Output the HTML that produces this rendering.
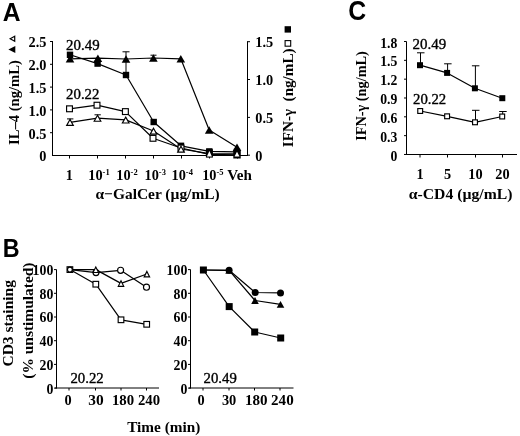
<!DOCTYPE html>
<html><head><meta charset="utf-8"><style>
html,body{margin:0;padding:0;background:#fff;}
body{width:520px;height:436px;overflow:hidden;}
svg{display:block;filter:grayscale(1) blur(0.35px);}
</style></head><body>
<svg width="520" height="436" viewBox="0 0 520 436">
<rect x="0" y="0" width="520" height="436" fill="#fff"/>
<text transform="translate(2.7,21.1) scale(0.93,1)" font-family='"Liberation Sans", sans-serif' font-size="26.5" font-weight="bold">A</text>
<text transform="translate(2.8,256.9) scale(0.88,1)" font-family='"Liberation Sans", sans-serif' font-size="26.5" font-weight="bold">B</text>
<text transform="translate(348.3,19.8) scale(0.9,1)" font-family='"Liberation Sans", sans-serif' font-size="27.6" font-weight="bold">C</text>
<line x1="52.5" y1="41" x2="52.5" y2="156.0" stroke="#000" stroke-width="1.0"/>
<line x1="52.0" y1="155.5" x2="248.0" y2="155.5" stroke="#000" stroke-width="1.0"/>
<line x1="247.5" y1="41.2" x2="247.5" y2="156.0" stroke="#000" stroke-width="1.0"/>
<line x1="50.0" y1="41.5" x2="52.5" y2="41.5" stroke="#000" stroke-width="1.0"/>
<line x1="50.0" y1="64.3" x2="52.5" y2="64.3" stroke="#000" stroke-width="1.0"/>
<line x1="50.0" y1="87.1" x2="52.5" y2="87.1" stroke="#000" stroke-width="1.0"/>
<line x1="50.0" y1="109.9" x2="52.5" y2="109.9" stroke="#000" stroke-width="1.0"/>
<line x1="50.0" y1="132.7" x2="52.5" y2="132.7" stroke="#000" stroke-width="1.0"/>
<line x1="247.5" y1="41.7" x2="250.0" y2="41.7" stroke="#000" stroke-width="1.0"/>
<line x1="247.5" y1="79.5" x2="250.0" y2="79.5" stroke="#000" stroke-width="1.0"/>
<line x1="247.5" y1="117.4" x2="250.0" y2="117.4" stroke="#000" stroke-width="1.0"/>
<line x1="247.5" y1="155.2" x2="250.0" y2="155.2" stroke="#000" stroke-width="1.0"/>
<line x1="69.5" y1="155.5" x2="69.5" y2="158.5" stroke="#000" stroke-width="1.0"/>
<line x1="97.5" y1="155.5" x2="97.5" y2="158.5" stroke="#000" stroke-width="1.0"/>
<line x1="125.5" y1="155.5" x2="125.5" y2="158.5" stroke="#000" stroke-width="1.0"/>
<line x1="153.5" y1="155.5" x2="153.5" y2="158.5" stroke="#000" stroke-width="1.0"/>
<line x1="181.5" y1="155.5" x2="181.5" y2="158.5" stroke="#000" stroke-width="1.0"/>
<line x1="209.5" y1="155.5" x2="209.5" y2="158.5" stroke="#000" stroke-width="1.0"/>
<line x1="237.5" y1="155.5" x2="237.5" y2="158.5" stroke="#000" stroke-width="1.0"/>
<text x="46.4" y="47.4" font-family='"Liberation Serif", serif' font-size="14.3" font-weight="bold" text-anchor="end" >2.5</text>
<text x="46.4" y="70.2" font-family='"Liberation Serif", serif' font-size="14.3" font-weight="bold" text-anchor="end" >2.0</text>
<text x="46.4" y="93.0" font-family='"Liberation Serif", serif' font-size="14.3" font-weight="bold" text-anchor="end" >1.5</text>
<text x="46.4" y="115.80000000000001" font-family='"Liberation Serif", serif' font-size="14.3" font-weight="bold" text-anchor="end" >1.0</text>
<text x="46.4" y="138.6" font-family='"Liberation Serif", serif' font-size="14.3" font-weight="bold" text-anchor="end" >0.5</text>
<text x="46.4" y="161.4" font-family='"Liberation Serif", serif' font-size="14.3" font-weight="bold" text-anchor="end" >0</text>
<text x="255.3" y="47.300000000000004" font-family='"Liberation Serif", serif' font-size="14.3" font-weight="bold" text-anchor="start" >1.5</text>
<text x="255.3" y="85.1" font-family='"Liberation Serif", serif' font-size="14.3" font-weight="bold" text-anchor="start" >1.0</text>
<text x="255.3" y="123.0" font-family='"Liberation Serif", serif' font-size="14.3" font-weight="bold" text-anchor="start" >0.5</text>
<text x="255.3" y="160.79999999999998" font-family='"Liberation Serif", serif' font-size="14.3" font-weight="bold" text-anchor="start" >0</text>
<text x="69.4" y="179.8" font-family='"Liberation Serif", serif' font-size="14.3" font-weight="bold" text-anchor="middle" >1</text>
<text x="88.3" y="179.8" font-family='"Liberation Serif", serif' font-size="14.3" font-weight="bold">10<tspan font-size="8.5" dy="-4.8">-1</tspan></text>
<text x="116.3" y="179.8" font-family='"Liberation Serif", serif' font-size="14.3" font-weight="bold">10<tspan font-size="8.5" dy="-4.8">-2</tspan></text>
<text x="144.5" y="179.8" font-family='"Liberation Serif", serif' font-size="14.3" font-weight="bold">10<tspan font-size="8.5" dy="-4.8">-3</tspan></text>
<text x="171.5" y="179.8" font-family='"Liberation Serif", serif' font-size="14.3" font-weight="bold">10<tspan font-size="8.5" dy="-4.8">-4</tspan></text>
<text x="202.2" y="179.8" font-family='"Liberation Serif", serif' font-size="14.3" font-weight="bold">10<tspan font-size="8.5" dy="-4.8">-5</tspan></text>
<text x="227.3" y="179.8" font-family='"Liberation Serif", serif' font-size="14.3" font-weight="bold" text-anchor="start" textLength="24.6" lengthAdjust="spacingAndGlyphs">Veh</text>
<text x="95.5" y="199.4" font-family='"Liberation Serif", serif' font-size="15.2" font-weight="bold" textLength="124.2" lengthAdjust="spacingAndGlyphs" >α−GalCer (µg/mL)</text>
<text transform="translate(18.6,145.0) rotate(-90)" font-family='"Liberation Serif", serif' font-size="15.2" font-weight="bold" textLength="84.9" lengthAdjust="spacingAndGlyphs" >IL–4 (ng/mL)</text>
<polygon points="8.4,49.5 15.3,45.9 15.3,53.1" fill="#000"/>
<polygon points="10.2,38.8 14.7,36.3 14.7,41.3" fill="#fff" stroke="#000" stroke-width="1.2"/>
<text transform="translate(293.4,147.2) rotate(-90)" font-family='"Liberation Serif", serif' font-size="15.2" font-weight="bold" textLength="98.8" lengthAdjust="spacingAndGlyphs" xml:space="preserve">IFN-γ  (ng/mL)</text>
<rect x="284.6" y="26.2" width="6.4" height="6.4" fill="#000"/>
<rect x="285.1" y="40.6" width="5.6" height="5.6" fill="#fff" stroke="#000" stroke-width="1.1"/>
<text x="66.1" y="49.7" font-family='"Liberation Serif", serif' font-size="14.5" font-weight="normal" stroke="#000" stroke-width="0.35" textLength="33.5" lengthAdjust="spacingAndGlyphs">20.49</text>
<text x="66.1" y="99.4" font-family='"Liberation Serif", serif' font-size="14.5" font-weight="normal" stroke="#000" stroke-width="0.35" textLength="33.3" lengthAdjust="spacingAndGlyphs">20.22</text>
<polyline points="70,54.8 97.6,63.6 126,75 153.7,122 181,145.8 209.3,151.4 237,151.8" fill="none" stroke="#000" stroke-width="1.2" stroke-linejoin="round"/>
<polyline points="70,58.8 97.9,58.2 126,59 153.4,58 180.8,58.8 209.2,130 237,147.3" fill="none" stroke="#000" stroke-width="1.2" stroke-linejoin="round"/>
<polyline points="69.5,108.8 97,105.2 125.4,111.6 153,138.3 181,148 209.3,154.4 237,154.8" fill="none" stroke="#000" stroke-width="1.2" stroke-linejoin="round"/>
<polyline points="70,122.3 97.5,118.1 125.7,119.9 153.5,131 181,149 209.3,153.6 237,153.8" fill="none" stroke="#000" stroke-width="1.2" stroke-linejoin="round"/>
<line x1="126" y1="51.8" x2="126" y2="72" stroke="#000" stroke-width="1.0"/>
<line x1="122.5" y1="51.8" x2="129.5" y2="51.8" stroke="#000" stroke-width="1.0"/>
<line x1="67" y1="118.9" x2="73.4" y2="118.9" stroke="#000" stroke-width="1.0"/>
<line x1="70.2" y1="118.9" x2="70.2" y2="121" stroke="#000" stroke-width="1.0"/>
<line x1="94.5" y1="114.8" x2="100.8" y2="114.8" stroke="#000" stroke-width="1.0"/>
<line x1="97.6" y1="114.8" x2="97.6" y2="117" stroke="#000" stroke-width="1.0"/>
<line x1="150.5" y1="55.2" x2="156.5" y2="55.2" stroke="#000" stroke-width="1.0"/>
<rect x="66.8" y="51.599999999999994" width="6.4" height="6.4" fill="#000"/>
<rect x="94.39999999999999" y="60.4" width="6.4" height="6.4" fill="#000"/>
<rect x="122.8" y="71.8" width="6.4" height="6.4" fill="#000"/>
<rect x="150.5" y="118.8" width="6.4" height="6.4" fill="#000"/>
<rect x="177.8" y="142.60000000000002" width="6.4" height="6.4" fill="#000"/>
<rect x="206.10000000000002" y="148.20000000000002" width="6.4" height="6.4" fill="#000"/>
<rect x="233.8" y="148.60000000000002" width="6.4" height="6.4" fill="#000"/>
<polygon points="70,55.099999999999994 74.3,62.5 65.7,62.5" fill="#000"/>
<polygon points="97.9,54.5 102.2,61.900000000000006 93.60000000000001,61.900000000000006" fill="#000"/>
<polygon points="126,55.3 130.3,62.7 121.7,62.7" fill="#000"/>
<polygon points="153.4,54.3 157.70000000000002,61.7 149.1,61.7" fill="#000"/>
<polygon points="180.8,55.099999999999994 185.10000000000002,62.5 176.5,62.5" fill="#000"/>
<polygon points="209.2,126.3 213.5,133.7 204.89999999999998,133.7" fill="#000"/>
<polygon points="237,143.60000000000002 241.3,151.0 232.7,151.0" fill="#000"/>
<rect x="66.575" y="105.875" width="5.85" height="5.85" fill="#fff" stroke="#000" stroke-width="1.15"/>
<rect x="94.075" y="102.275" width="5.85" height="5.85" fill="#fff" stroke="#000" stroke-width="1.15"/>
<rect x="122.47500000000001" y="108.675" width="5.85" height="5.85" fill="#fff" stroke="#000" stroke-width="1.15"/>
<rect x="150.075" y="135.375" width="5.85" height="5.85" fill="#fff" stroke="#000" stroke-width="1.15"/>
<rect x="178.075" y="145.075" width="5.85" height="5.85" fill="#fff" stroke="#000" stroke-width="1.15"/>
<polygon points="70,119.52 73.32249999999999,125.425 66.67750000000001,125.425" fill="#fff" stroke="#000" stroke-width="1.15" stroke-linejoin="miter"/>
<polygon points="97.5,115.32 100.82249999999999,121.225 94.17750000000001,121.225" fill="#fff" stroke="#000" stroke-width="1.15" stroke-linejoin="miter"/>
<polygon points="125.7,117.12 129.0225,123.025 122.37750000000001,123.025" fill="#fff" stroke="#000" stroke-width="1.15" stroke-linejoin="miter"/>
<polygon points="153.5,128.22 156.82250000000002,134.125 150.17749999999998,134.125" fill="#fff" stroke="#000" stroke-width="1.15" stroke-linejoin="miter"/>
<polygon points="181,146.22 184.32250000000002,152.125 177.67749999999998,152.125" fill="#fff" stroke="#000" stroke-width="1.15" stroke-linejoin="miter"/>
<rect x="205.9" y="149.2" width="7" height="8.4" fill="#000"/>
<polygon points="209.4,150.9 211.9,156.6 206.9,156.6" fill="#fff"/>
<rect x="233.3" y="150.5" width="7.4" height="8" fill="#000"/>
<polygon points="237,151.8 239.5,156.4 234.5,156.4" fill="#fff"/>
<line x1="406.5" y1="41.5" x2="406.5" y2="155.0" stroke="#000" stroke-width="1.0"/>
<line x1="406.0" y1="154.5" x2="517" y2="154.5" stroke="#000" stroke-width="1.0"/>
<line x1="404.0" y1="41.5" x2="406.5" y2="41.5" stroke="#000" stroke-width="1.0"/>
<text x="397.3" y="47.6" font-family='"Liberation Serif", serif' font-size="13.700000000000001" font-weight="bold" text-anchor="end" >1.8</text>
<line x1="404.0" y1="60.33" x2="406.5" y2="60.33" stroke="#000" stroke-width="1.0"/>
<text x="397.3" y="66.42999999999999" font-family='"Liberation Serif", serif' font-size="13.700000000000001" font-weight="bold" text-anchor="end" >1.5</text>
<line x1="404.0" y1="79.16" x2="406.5" y2="79.16" stroke="#000" stroke-width="1.0"/>
<text x="397.3" y="85.25999999999999" font-family='"Liberation Serif", serif' font-size="13.700000000000001" font-weight="bold" text-anchor="end" >1.2</text>
<line x1="404.0" y1="97.99" x2="406.5" y2="97.99" stroke="#000" stroke-width="1.0"/>
<text x="397.3" y="104.08999999999999" font-family='"Liberation Serif", serif' font-size="13.700000000000001" font-weight="bold" text-anchor="end" >0.9</text>
<line x1="404.0" y1="116.82" x2="406.5" y2="116.82" stroke="#000" stroke-width="1.0"/>
<text x="397.3" y="122.91999999999999" font-family='"Liberation Serif", serif' font-size="13.700000000000001" font-weight="bold" text-anchor="end" >0.6</text>
<line x1="404.0" y1="135.64999999999998" x2="406.5" y2="135.64999999999998" stroke="#000" stroke-width="1.0"/>
<text x="397.3" y="141.74999999999997" font-family='"Liberation Serif", serif' font-size="13.700000000000001" font-weight="bold" text-anchor="end" >0.3</text>
<line x1="404.0" y1="154.48" x2="406.5" y2="154.48" stroke="#000" stroke-width="1.0"/>
<text x="397.3" y="160.57999999999998" font-family='"Liberation Serif", serif' font-size="13.700000000000001" font-weight="bold" text-anchor="end" >0</text>
<line x1="420" y1="154.5" x2="420" y2="157.5" stroke="#000" stroke-width="1.0"/>
<text x="420" y="179.4" font-family='"Liberation Serif", serif' font-size="14.3" font-weight="bold" text-anchor="middle" >1</text>
<line x1="447.5" y1="154.5" x2="447.5" y2="157.5" stroke="#000" stroke-width="1.0"/>
<text x="447.5" y="179.4" font-family='"Liberation Serif", serif' font-size="14.3" font-weight="bold" text-anchor="middle" >5</text>
<line x1="475.5" y1="154.5" x2="475.5" y2="157.5" stroke="#000" stroke-width="1.0"/>
<text x="475.5" y="179.4" font-family='"Liberation Serif", serif' font-size="14.3" font-weight="bold" text-anchor="middle" >10</text>
<line x1="502.5" y1="154.5" x2="502.5" y2="157.5" stroke="#000" stroke-width="1.0"/>
<text x="502.5" y="179.4" font-family='"Liberation Serif", serif' font-size="14.3" font-weight="bold" text-anchor="middle" >20</text>
<text x="408.7" y="199" font-family='"Liberation Serif", serif' font-size="15.2" font-weight="bold" textLength="103.8" lengthAdjust="spacingAndGlyphs" >α-CD4 (µg/mL)</text>
<text transform="translate(365.6,140.7) rotate(-90)" font-family='"Liberation Serif", serif' font-size="14.8" font-weight="bold" textLength="89.5" lengthAdjust="spacingAndGlyphs" >IFN-γ (ng/mL)</text>
<text x="412.6" y="49.2" font-family='"Liberation Serif", serif' font-size="14.5" font-weight="normal" stroke="#000" stroke-width="0.35" textLength="33.6" lengthAdjust="spacingAndGlyphs">20.49</text>
<text x="413.0" y="104.3" font-family='"Liberation Serif", serif' font-size="14.5" font-weight="normal" stroke="#000" stroke-width="0.35" textLength="33.2" lengthAdjust="spacingAndGlyphs">20.22</text>
<polyline points="420,65.2 447.1,72.9 474.9,88.3 502.3,98.2" fill="none" stroke="#000" stroke-width="1.2" stroke-linejoin="round"/>
<polyline points="420.2,111 447.1,116.3 475,122.3 502.2,116.5" fill="none" stroke="#000" stroke-width="1.2" stroke-linejoin="round"/>
<line x1="420.5" y1="52.8" x2="420.5" y2="65.2" stroke="#000" stroke-width="1.0"/>
<line x1="417" y1="52.8" x2="424.5" y2="52.8" stroke="#000" stroke-width="1.0"/>
<line x1="447.6" y1="63.8" x2="447.6" y2="72.9" stroke="#000" stroke-width="1.0"/>
<line x1="444.1" y1="63.8" x2="451.6" y2="63.8" stroke="#000" stroke-width="1.0"/>
<line x1="475.4" y1="65.8" x2="475.4" y2="88.3" stroke="#000" stroke-width="1.0"/>
<line x1="471.9" y1="65.8" x2="479.4" y2="65.8" stroke="#000" stroke-width="1.0"/>
<line x1="475.5" y1="110.3" x2="475.5" y2="122.3" stroke="#000" stroke-width="1.0"/>
<line x1="472" y1="110.3" x2="479.5" y2="110.3" stroke="#000" stroke-width="1.0"/>
<line x1="502.7" y1="111.5" x2="502.7" y2="116.5" stroke="#000" stroke-width="1.0"/>
<line x1="499.2" y1="111.5" x2="506.7" y2="111.5" stroke="#000" stroke-width="1.0"/>
<rect x="417.0" y="62.2" width="6" height="6" fill="#000"/>
<rect x="444.1" y="69.9" width="6" height="6" fill="#000"/>
<rect x="471.9" y="85.3" width="6" height="6" fill="#000"/>
<rect x="499.3" y="95.2" width="6" height="6" fill="#000"/>
<rect x="417.775" y="108.575" width="4.85" height="4.85" fill="#fff" stroke="#000" stroke-width="1.15"/>
<rect x="444.675" y="113.875" width="4.85" height="4.85" fill="#fff" stroke="#000" stroke-width="1.15"/>
<rect x="472.575" y="119.875" width="4.85" height="4.85" fill="#fff" stroke="#000" stroke-width="1.15"/>
<rect x="499.775" y="114.075" width="4.85" height="4.85" fill="#fff" stroke="#000" stroke-width="1.15"/>
<line x1="56.5" y1="269.5" x2="56.5" y2="388.5" stroke="#000" stroke-width="1.0"/>
<line x1="55.0" y1="388" x2="159" y2="388" stroke="#000" stroke-width="1.0"/>
<line x1="54.0" y1="269.6" x2="56.5" y2="269.6" stroke="#000" stroke-width="1.0"/>
<text x="53.3" y="275.0" font-family='"Liberation Serif", serif' font-size="13.8" font-weight="bold" text-anchor="end" >100</text>
<line x1="54.0" y1="293.3" x2="56.5" y2="293.3" stroke="#000" stroke-width="1.0"/>
<text x="53.3" y="298.7" font-family='"Liberation Serif", serif' font-size="13.8" font-weight="bold" text-anchor="end" >80</text>
<line x1="54.0" y1="317.0" x2="56.5" y2="317.0" stroke="#000" stroke-width="1.0"/>
<text x="53.3" y="322.4" font-family='"Liberation Serif", serif' font-size="13.8" font-weight="bold" text-anchor="end" >60</text>
<line x1="54.0" y1="340.70000000000005" x2="56.5" y2="340.70000000000005" stroke="#000" stroke-width="1.0"/>
<text x="53.3" y="346.1" font-family='"Liberation Serif", serif' font-size="13.8" font-weight="bold" text-anchor="end" >40</text>
<line x1="54.0" y1="364.40000000000003" x2="56.5" y2="364.40000000000003" stroke="#000" stroke-width="1.0"/>
<text x="53.3" y="369.8" font-family='"Liberation Serif", serif' font-size="13.8" font-weight="bold" text-anchor="end" >20</text>
<line x1="54.0" y1="388.1" x2="56.5" y2="388.1" stroke="#000" stroke-width="1.0"/>
<text x="53.3" y="393.5" font-family='"Liberation Serif", serif' font-size="13.8" font-weight="bold" text-anchor="end" >0</text>
<line x1="69" y1="388" x2="69" y2="390.5" stroke="#000" stroke-width="1.0"/>
<line x1="95.5" y1="388" x2="95.5" y2="390.5" stroke="#000" stroke-width="1.0"/>
<line x1="121" y1="388" x2="121" y2="390.5" stroke="#000" stroke-width="1.0"/>
<line x1="146.5" y1="388" x2="146.5" y2="390.5" stroke="#000" stroke-width="1.0"/>
<text x="68.0" y="404.8" font-family='"Liberation Serif", serif' font-size="14.3" font-weight="bold" text-anchor="middle" >0</text>
<text x="88.2" y="404.8" font-family='"Liberation Serif", serif' font-size="14.3" font-weight="bold" text-anchor="start" textLength="15.4" lengthAdjust="spacingAndGlyphs">30</text>
<text x="111.9" y="404.8" font-family='"Liberation Serif", serif' font-size="14.3" font-weight="bold" text-anchor="start" textLength="22.2" lengthAdjust="spacingAndGlyphs">180</text>
<text x="138.0" y="404.8" font-family='"Liberation Serif", serif' font-size="14.3" font-weight="bold" text-anchor="start" textLength="22.1" lengthAdjust="spacingAndGlyphs">240</text>
<line x1="190.5" y1="269.5" x2="190.5" y2="388.5" stroke="#000" stroke-width="1.0"/>
<line x1="189.0" y1="388" x2="293.5" y2="388" stroke="#000" stroke-width="1.0"/>
<line x1="188.0" y1="269.6" x2="190.5" y2="269.6" stroke="#000" stroke-width="1.0"/>
<text x="187.3" y="275.0" font-family='"Liberation Serif", serif' font-size="13.8" font-weight="bold" text-anchor="end" >100</text>
<line x1="188.0" y1="293.3" x2="190.5" y2="293.3" stroke="#000" stroke-width="1.0"/>
<text x="187.3" y="298.7" font-family='"Liberation Serif", serif' font-size="13.8" font-weight="bold" text-anchor="end" >80</text>
<line x1="188.0" y1="317.0" x2="190.5" y2="317.0" stroke="#000" stroke-width="1.0"/>
<text x="187.3" y="322.4" font-family='"Liberation Serif", serif' font-size="13.8" font-weight="bold" text-anchor="end" >60</text>
<line x1="188.0" y1="340.70000000000005" x2="190.5" y2="340.70000000000005" stroke="#000" stroke-width="1.0"/>
<text x="187.3" y="346.1" font-family='"Liberation Serif", serif' font-size="13.8" font-weight="bold" text-anchor="end" >40</text>
<line x1="188.0" y1="364.40000000000003" x2="190.5" y2="364.40000000000003" stroke="#000" stroke-width="1.0"/>
<text x="187.3" y="369.8" font-family='"Liberation Serif", serif' font-size="13.8" font-weight="bold" text-anchor="end" >20</text>
<line x1="188.0" y1="388.1" x2="190.5" y2="388.1" stroke="#000" stroke-width="1.0"/>
<text x="187.3" y="393.5" font-family='"Liberation Serif", serif' font-size="13.8" font-weight="bold" text-anchor="end" >0</text>
<line x1="203" y1="388" x2="203" y2="390.5" stroke="#000" stroke-width="1.0"/>
<line x1="229" y1="388" x2="229" y2="390.5" stroke="#000" stroke-width="1.0"/>
<line x1="254.5" y1="388" x2="254.5" y2="390.5" stroke="#000" stroke-width="1.0"/>
<line x1="280" y1="388" x2="280" y2="390.5" stroke="#000" stroke-width="1.0"/>
<text x="201.05" y="404.8" font-family='"Liberation Serif", serif' font-size="14.3" font-weight="bold" text-anchor="middle" >0</text>
<text x="221.9" y="404.8" font-family='"Liberation Serif", serif' font-size="14.3" font-weight="bold" text-anchor="start" textLength="14.4" lengthAdjust="spacingAndGlyphs">30</text>
<text x="245.0" y="404.8" font-family='"Liberation Serif", serif' font-size="14.3" font-weight="bold" text-anchor="start" textLength="22.6" lengthAdjust="spacingAndGlyphs">180</text>
<text x="271.09999999999997" y="404.8" font-family='"Liberation Serif", serif' font-size="14.3" font-weight="bold" text-anchor="start" textLength="22.6" lengthAdjust="spacingAndGlyphs">240</text>
<text x="70.39999999999999" y="383.1" font-family='"Liberation Serif", serif' font-size="14.5" font-weight="normal" stroke="#000" stroke-width="0.35" textLength="33.3" lengthAdjust="spacingAndGlyphs">20.22</text>
<text x="203.6" y="383.2" font-family='"Liberation Serif", serif' font-size="14.5" font-weight="normal" stroke="#000" stroke-width="0.35" textLength="33.2" lengthAdjust="spacingAndGlyphs">20.49</text>
<text x="127.2" y="431.6" font-family='"Liberation Serif", serif' font-size="15.2" font-weight="bold" textLength="73.1" lengthAdjust="spacingAndGlyphs" >Time (min)</text>
<text transform="translate(13.2,366.5) rotate(-90)" font-family='"Liberation Serif", serif' font-size="15.2" font-weight="bold" textLength="86.4" lengthAdjust="spacingAndGlyphs" >CD3 staining</text>
<text transform="translate(33,378.7) rotate(-90)" font-family='"Liberation Serif", serif' font-size="15.2" font-weight="bold" textLength="116.2" lengthAdjust="spacingAndGlyphs" >(% unstimulated)</text>
<polyline points="69.9,269.6 95.8,284.2 121,319.8 146.7,324.3" fill="none" stroke="#000" stroke-width="1.2" stroke-linejoin="round"/>
<polyline points="69.9,269.6 96,272.6 120.6,270.3 146.5,287.2" fill="none" stroke="#000" stroke-width="1.2" stroke-linejoin="round"/>
<polyline points="69.9,269.6 95.8,269.6 121,283.4 146.9,274" fill="none" stroke="#000" stroke-width="1.2" stroke-linejoin="round"/>
<rect x="67.075" y="266.77500000000003" width="5.65" height="5.65" fill="#fff" stroke="#000" stroke-width="1.15"/>
<rect x="92.975" y="281.375" width="5.65" height="5.65" fill="#fff" stroke="#000" stroke-width="1.15"/>
<rect x="118.175" y="316.975" width="5.65" height="5.65" fill="#fff" stroke="#000" stroke-width="1.15"/>
<rect x="143.87499999999997" y="321.475" width="5.65" height="5.65" fill="#fff" stroke="#000" stroke-width="1.15"/>
<circle cx="96" cy="272.6" r="3.0250000000000004" fill="#fff" stroke="#000" stroke-width="1.15"/>
<circle cx="120.6" cy="270.3" r="3.0250000000000004" fill="#fff" stroke="#000" stroke-width="1.15"/>
<circle cx="146.5" cy="287.2" r="3.0250000000000004" fill="#fff" stroke="#000" stroke-width="1.15"/>
<circle cx="69.9" cy="269.6" r="2.425" fill="#fff" stroke="#000" stroke-width="1.15"/>
<polygon points="95.8,267.02000000000004 98.5225,272.52500000000003 93.0775,272.52500000000003" fill="#fff" stroke="#000" stroke-width="1.15" stroke-linejoin="miter"/>
<polygon points="121,280.82 123.7225,286.325 118.2775,286.325" fill="#fff" stroke="#000" stroke-width="1.15" stroke-linejoin="miter"/>
<polygon points="146.9,271.42 149.6225,276.925 144.1775,276.925" fill="#fff" stroke="#000" stroke-width="1.15" stroke-linejoin="miter"/>
<polyline points="203.4,270 229.2,306.6 254.7,332 280.7,338" fill="none" stroke="#000" stroke-width="1.2" stroke-linejoin="round"/>
<polyline points="203.4,270 229.1,270.3 255.2,292.5 280.5,292.9" fill="none" stroke="#000" stroke-width="1.2" stroke-linejoin="round"/>
<polyline points="203.4,270 229.1,270.3 255,300.5 280.5,304.3" fill="none" stroke="#000" stroke-width="1.2" stroke-linejoin="round"/>
<circle cx="229.1" cy="270.3" r="3.5" fill="#000"/>
<circle cx="255.2" cy="292.5" r="3.5" fill="#000"/>
<circle cx="280.5" cy="292.9" r="3.5" fill="#000"/>
<polygon points="229.1,266.90000000000003 232.9,273.7 225.29999999999998,273.7" fill="#000"/>
<polygon points="255,297.1 258.8,303.9 251.2,303.9" fill="#000"/>
<polygon points="280.5,300.90000000000003 284.3,307.7 276.7,307.7" fill="#000"/>
<rect x="199.9" y="266.5" width="7" height="7" fill="#000"/>
<rect x="225.7" y="303.1" width="7" height="7" fill="#000"/>
<rect x="251.2" y="328.5" width="7" height="7" fill="#000"/>
<rect x="277.2" y="334.5" width="7" height="7" fill="#000"/>
</svg>
</body></html>
